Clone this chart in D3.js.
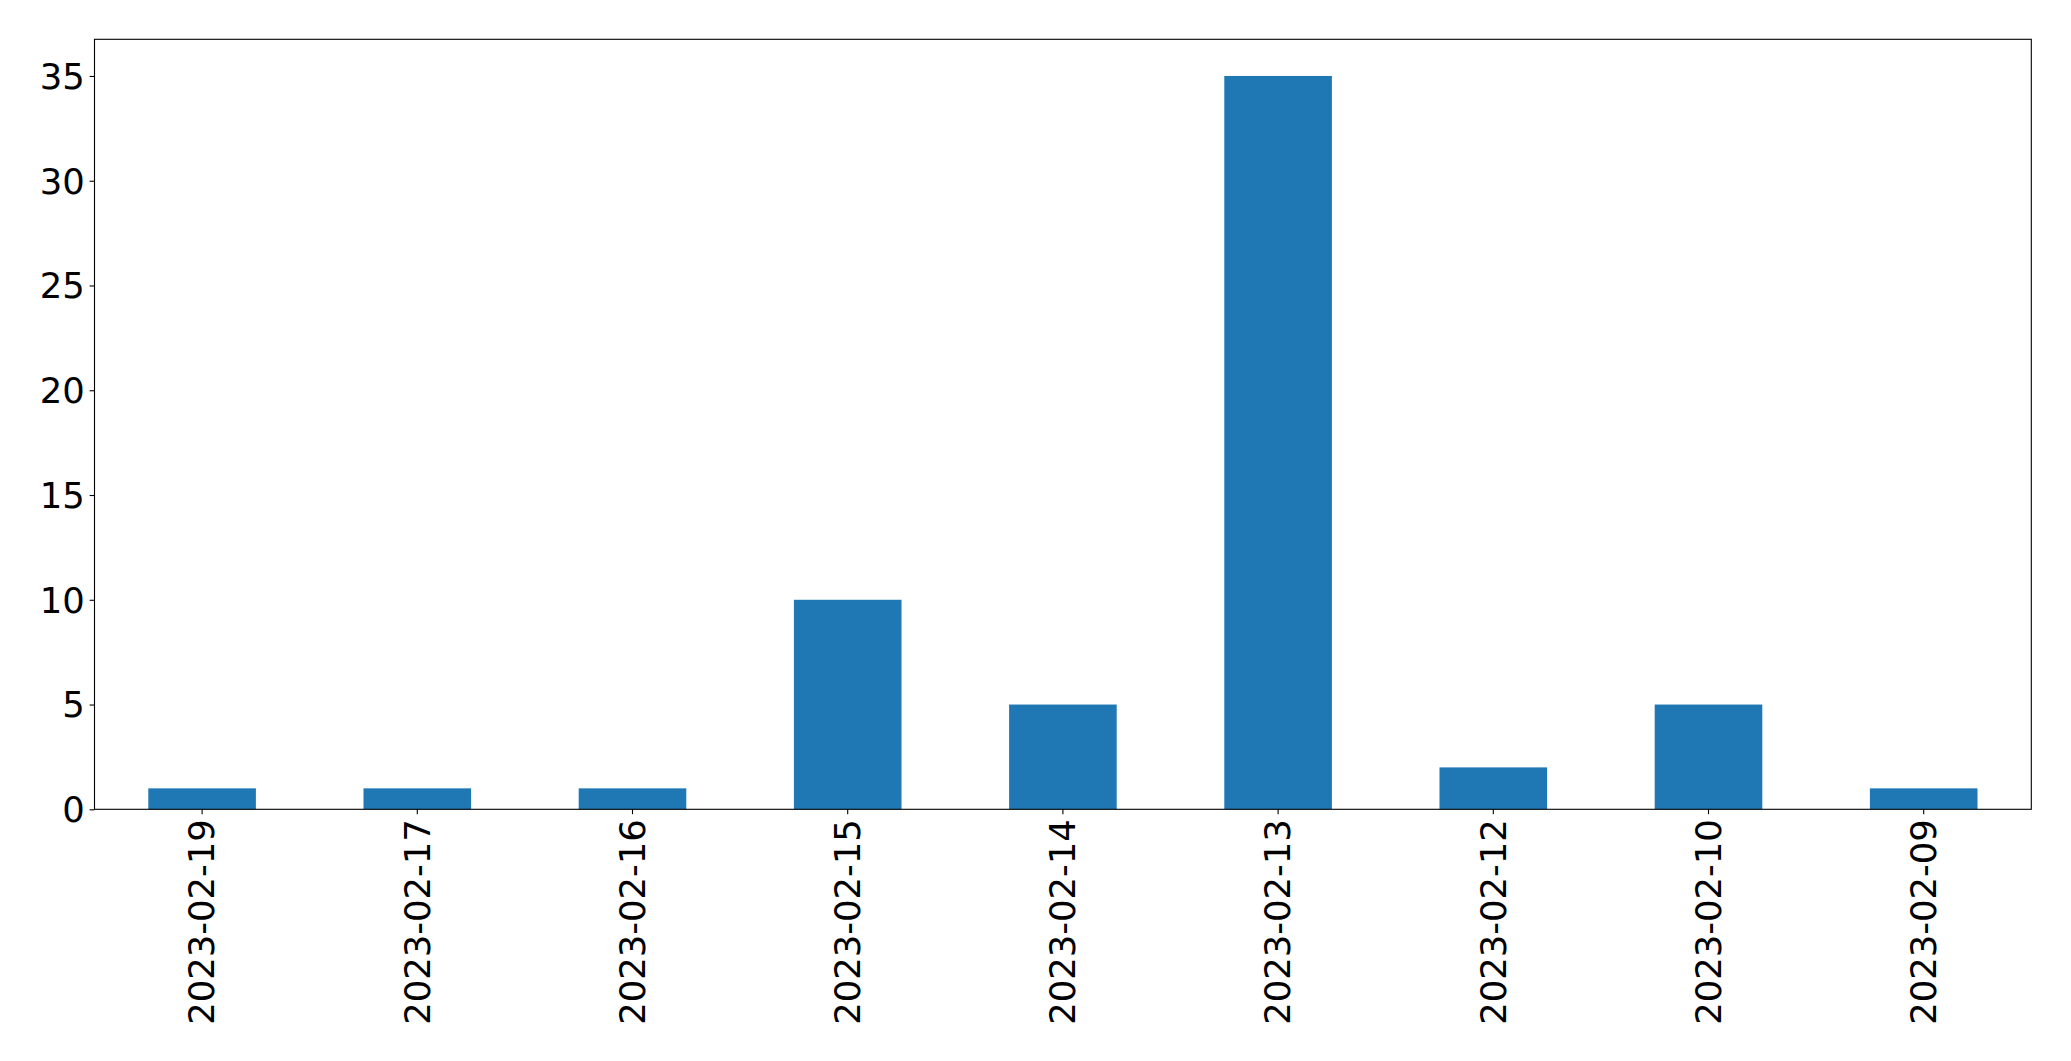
<!DOCTYPE html>
<html><head><meta charset="utf-8">
<script src="https://cdn.jsdelivr.net/npm/d3@7"></script>
<style>body{margin:0;background:#fff}svg{display:block}text{font-family:"DejaVu Sans",sans-serif;fill:#000}</style>
</head><body><svg id="c" width="2071" height="1061"></svg>
<script>
const categories = ["2023-02-19","2023-02-17","2023-02-16","2023-02-15","2023-02-14","2023-02-13","2023-02-12","2023-02-10","2023-02-09"];
const values = [1,1,1,10,5,35,2,5,1];
const yTicks = [0,5,10,15,20,25,30,35];

const W=2071,H=1061;
const m={left:94.5,right:2031.3,top:39.3,bottom:809.3};
const fs=35.4;
const svg=d3.select("#c");
const x=d3.scaleBand().domain(categories).range([m.left,m.right]).paddingInner(0.5).paddingOuter(0.25);
const y=d3.scaleLinear().domain([0,d3.max(values)*1.05]).range([m.bottom,m.top]);

svg.append("g").selectAll("rect").data(values).join("rect")
  .attr("x",(d,i)=>x(categories[i])).attr("width",x.bandwidth())
  .attr("y",d=>y(d)).attr("height",d=>y(0)-y(d)).attr("fill","#1f77b4");

const yAxis=d3.axisLeft(y).tickValues(yTicks).tickSize(4.9).tickPadding(4.9);
const gy=svg.append("g").attr("transform",`translate(${m.left},0)`).call(yAxis);
gy.select(".domain").remove();
gy.selectAll("line").attr("stroke","#000").attr("stroke-width",1.1);
gy.selectAll("text").attr("font-size",fs).style("font-family","DejaVu Sans").attr("dy","0.35em");

const xAxis=d3.axisBottom(x).tickSize(4.9).tickPadding(0);
const gx=svg.append("g").attr("transform",`translate(0,${m.bottom})`).call(xAxis);
gx.select(".domain").remove();
gx.selectAll("line").attr("stroke","#000").attr("stroke-width",1.1);
gx.selectAll("text").attr("font-size",fs).style("font-family","DejaVu Sans")
  .attr("text-anchor","end").attr("transform","translate(0,9.8) rotate(-90)")
  .attr("x",0).attr("y",0).attr("dy","0.35em");

svg.append("rect").attr("x",m.left).attr("y",m.top).attr("width",m.right-m.left).attr("height",m.bottom-m.top)
  .attr("fill","none").attr("stroke","#000").attr("stroke-width",1.1);
</script></body></html>
